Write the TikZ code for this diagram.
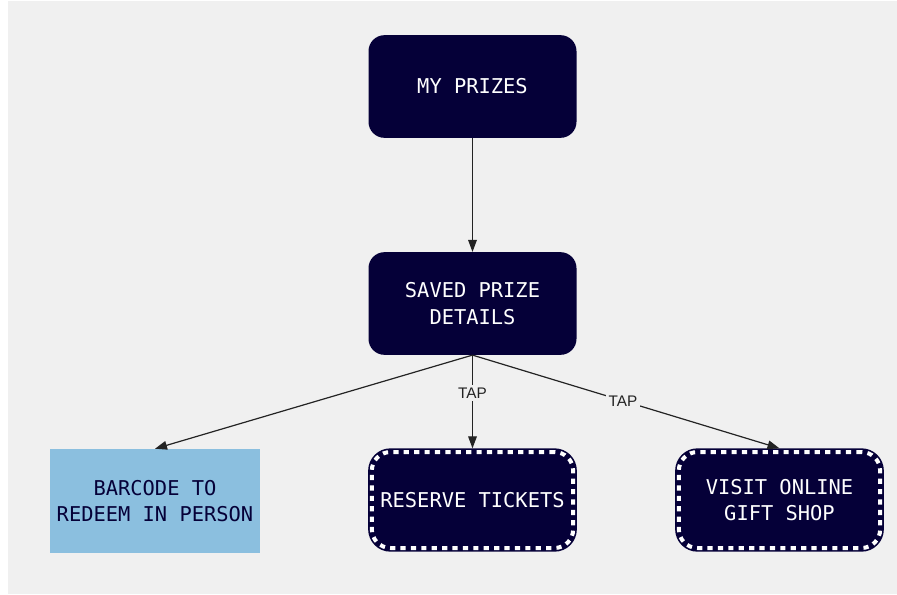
\documentclass[tikz,border=0pt]{standalone}
\usepackage{fontspec}
\setmainfont{Liberation Sans}
\setmonofont{DejaVu Sans Mono}
\usetikzlibrary{arrows.meta}
\definecolor{navy}{RGB}{5,0,56}
\definecolor{sky}{RGB}{139,191,223}
\definecolor{canvas}{RGB}{240,240,240}
\definecolor{wire}{RGB}{35,35,35}
\begin{document}
\begin{tikzpicture}[x=0.75pt,y=-0.75pt,
  box/.style={minimum width=156pt, minimum height=77pt, align=center, inner sep=0pt,
    font=\ttfamily\fontsize{15.3}{20}\selectfont},
  darkbox/.style={box, rounded corners=12pt, fill=navy, text=white},
  tapbox/.style={box, minimum width=151pt, minimum height=72pt, rounded corners=14pt,
    fill=navy, text=white, draw=navy, line width=5.5pt,
    postaction={draw=white, line width=3pt, dash pattern=on 3.9pt off 3.9pt}},
  lightbox/.style={box, minimum width=157.5pt, minimum height=78pt, fill=sky, text=navy},
  link/.style={draw=wire, line width=0.9pt, -{Triangle[length=9pt,width=6.5pt]}},
  tap/.style={fill=canvas, text=wire, inner sep=2pt, font=\fontsize{11.5}{13}\selectfont}
]
% page and canvas
\fill[white] (0,0) rectangle (897,594);
\fill[canvas] (8,1) rectangle (897,594);
\useasboundingbox (0,0) rectangle (897,594);

% nodes
\node[darkbox] (prizes) at (472.5,86.5) {MY PRIZES};
\node[darkbox] (saved) at (472.5,303.5) {SAVED PRIZE\\DETAILS};
\node[lightbox] (barcode) at (155,501) {BARCODE TO\\REDEEM IN PERSON};
\node[tapbox] (reserve) at (472.5,500) {RESERVE TICKETS};
\node[tapbox] (shop) at (779.5,500) {VISIT ONLINE\\GIFT SHOP};

% connectors
\draw[link] (prizes.south) -- (saved.north);
\draw[link] (saved.south) -- (barcode.north);
\draw[link] (saved.south) -- node[tap, pos=0.41] {TAP} (reserve.north);
\draw[link] (saved.south) -- node[tap, pos=0.49] {TAP} (shop.north);
\end{tikzpicture}
\end{document}
